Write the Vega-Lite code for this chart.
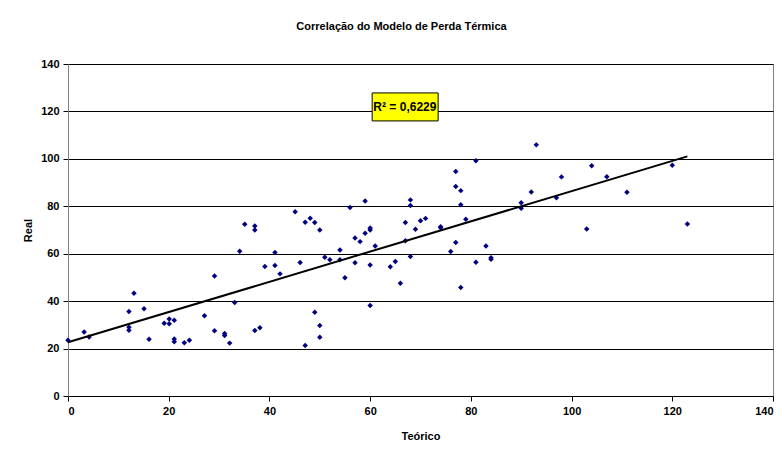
{
  "$schema": "https://vega.github.io/schema/vega-lite/v6.json",
  "width": 705,
  "height": 332,
  "autosize": {"type": "none"},
  "padding": {"left": 68, "top": 64, "right": 9, "bottom": 54},
  "background": "white",
  "title": {
    "text": "Correlação do Modelo de Perda Térmica",
    "font": "Liberation Sans",
    "fontSize": 11,
    "fontWeight": "bold",
    "color": "#000000",
    "anchor": "middle",
    "dx": -19,
    "offset": 26
  },
  "config": {
    "font": "Liberation Sans",
    "view": {"stroke": "#808080", "strokeWidth": 1},
    "axis": {
      "labelFont": "Liberation Sans",
      "labelFontSize": 11,
      "labelFontWeight": "bold",
      "labelColor": "#000000",
      "titleFont": "Liberation Sans",
      "titleFontSize": 11,
      "titleFontWeight": "bold",
      "titleColor": "#000000",
      "domainColor": "#000000",
      "tickColor": "#000000",
      "tickSize": 5
    }
  },
  "datasets": {
    "pts": [
      {"teorico": 0, "real": 23.5}, {"teorico": 3.2, "real": 27}, {"teorico": 4.2, "real": 24.9},
      {"teorico": 12.1, "real": 35.6}, {"teorico": 12.1, "real": 29}, {"teorico": 12.1, "real": 27.7},
      {"teorico": 13.1, "real": 43.3}, {"teorico": 15.1, "real": 36.8}, {"teorico": 16.1, "real": 23.9},
      {"teorico": 19.1, "real": 30.7}, {"teorico": 20.1, "real": 32.5}, {"teorico": 20.1, "real": 30.5},
      {"teorico": 21.1, "real": 31.9}, {"teorico": 21.1, "real": 24}, {"teorico": 21.1, "real": 22.9},
      {"teorico": 23.1, "real": 22.5}, {"teorico": 24.1, "real": 23.5}, {"teorico": 27.1, "real": 33.8},
      {"teorico": 29.1, "real": 50.6}, {"teorico": 29.1, "real": 27.5}, {"teorico": 31.1, "real": 26.4},
      {"teorico": 31.1, "real": 25.5}, {"teorico": 32.1, "real": 22.3}, {"teorico": 33.1, "real": 39.4},
      {"teorico": 34.1, "real": 61}, {"teorico": 35.1, "real": 72.4}, {"teorico": 37.1, "real": 71.7},
      {"teorico": 37.1, "real": 70}, {"teorico": 37.1, "real": 27.6}, {"teorico": 38.1, "real": 28.8},
      {"teorico": 39.1, "real": 54.6}, {"teorico": 41.1, "real": 60.5}, {"teorico": 41.1, "real": 55},
      {"teorico": 42.1, "real": 51.5}, {"teorico": 45.1, "real": 77.7}, {"teorico": 46.1, "real": 56.3},
      {"teorico": 47.1, "real": 73.3}, {"teorico": 47.1, "real": 21.3}, {"teorico": 48.1, "real": 75},
      {"teorico": 49, "real": 73.2}, {"teorico": 49, "real": 35.3}, {"teorico": 50, "real": 70},
      {"teorico": 50, "real": 29.7}, {"teorico": 50, "real": 24.8}, {"teorico": 51, "real": 58.5},
      {"teorico": 52, "real": 57.5}, {"teorico": 54, "real": 61.6}, {"teorico": 54, "real": 57.5},
      {"teorico": 55, "real": 49.9}, {"teorico": 56, "real": 79.5}, {"teorico": 57, "real": 66.6},
      {"teorico": 57, "real": 56.2}, {"teorico": 58, "real": 65.1}, {"teorico": 59, "real": 82.2},
      {"teorico": 59, "real": 68.6}, {"teorico": 60, "real": 70.8}, {"teorico": 60, "real": 70},
      {"teorico": 60, "real": 55.2}, {"teorico": 60, "real": 38.2}, {"teorico": 61, "real": 63.3},
      {"teorico": 64, "real": 54.5}, {"teorico": 65, "real": 56.7}, {"teorico": 66, "real": 47.5},
      {"teorico": 67, "real": 73.2}, {"teorico": 67, "real": 65.5}, {"teorico": 68, "real": 82.7},
      {"teorico": 68, "real": 80.3}, {"teorico": 68, "real": 58.8}, {"teorico": 69, "real": 70.3},
      {"teorico": 70, "real": 73.9}, {"teorico": 71, "real": 74.9}, {"teorico": 74, "real": 71.4},
      {"teorico": 74, "real": 70.9}, {"teorico": 76, "real": 60.9}, {"teorico": 77, "real": 94.7},
      {"teorico": 77, "real": 88.3}, {"teorico": 77, "real": 64.7}, {"teorico": 78, "real": 86.6},
      {"teorico": 78, "real": 80.6}, {"teorico": 78, "real": 45.8}, {"teorico": 79, "real": 74.5},
      {"teorico": 81, "real": 99.2}, {"teorico": 81, "real": 56.4}, {"teorico": 83, "real": 63.3},
      {"teorico": 84, "real": 58.3}, {"teorico": 84, "real": 57.7}, {"teorico": 90, "real": 81.5},
      {"teorico": 90, "real": 79.2}, {"teorico": 92, "real": 86}, {"teorico": 93, "real": 105.9},
      {"teorico": 97, "real": 83.6}, {"teorico": 98, "real": 92.4}, {"teorico": 103, "real": 70.4},
      {"teorico": 104, "real": 97.1}, {"teorico": 107, "real": 92.5}, {"teorico": 111, "real": 85.9},
      {"teorico": 120, "real": 97.3}, {"teorico": 123, "real": 72.5}
    ],
    "note": [
      {"label": "R² = 0,6229", "x0": 60.4, "x1": 73.5, "y0": 116, "y1": 127.8, "xc": 66.9, "yc": 121.8}
    ]
  },
  "layer": [
    {
      "data": {"name": "pts"},
      "mark": {"type": "point", "shape": "diamond", "filled": true, "color": "#000080", "size": 30, "opacity": 1},
      "encoding": {
        "x": {
          "field": "teorico", "type": "quantitative", "title": "Teórico",
          "scale": {"domain": [0, 140], "nice": false},
          "axis": {"values": [0, 20, 40, 60, 80, 100, 120, 140], "grid": false, "labelPadding": 4, "titleY": 34}
        },
        "y": {
          "field": "real", "type": "quantitative", "title": "Real",
          "scale": {"domain": [0, 140], "nice": false},
          "axis": {"values": [0, 20, 40, 60, 80, 100, 120, 140], "grid": true, "gridColor": "#000000", "gridOpacity": 1, "gridWidth": 1, "domainColor": "#808080", "labelPadding": 4, "titleX": -35}
        }
      }
    },
    {
      "data": {"name": "pts"},
      "transform": [{"regression": "real", "on": "teorico", "extent": [0, 123]}],
      "mark": {"type": "line", "color": "#000000", "strokeWidth": 2},
      "encoding": {
        "x": {"field": "teorico", "type": "quantitative"},
        "y": {"field": "real", "type": "quantitative"}
      }
    },
    {
      "data": {"name": "note"},
      "mark": {"type": "rect", "fill": "#FFFF00", "stroke": "#000000", "strokeWidth": 1},
      "encoding": {
        "x": {"field": "x0", "type": "quantitative"},
        "x2": {"field": "x1"},
        "y": {"field": "y0", "type": "quantitative"},
        "y2": {"field": "y1"}
      }
    },
    {
      "data": {"name": "note"},
      "mark": {"type": "text", "font": "Liberation Sans", "fontSize": 12, "fontWeight": "bold", "color": "#000000", "align": "center", "baseline": "middle"},
      "encoding": {
        "text": {"field": "label"},
        "x": {"field": "xc", "type": "quantitative"},
        "y": {"field": "yc", "type": "quantitative"}
      }
    }
  ]
}
